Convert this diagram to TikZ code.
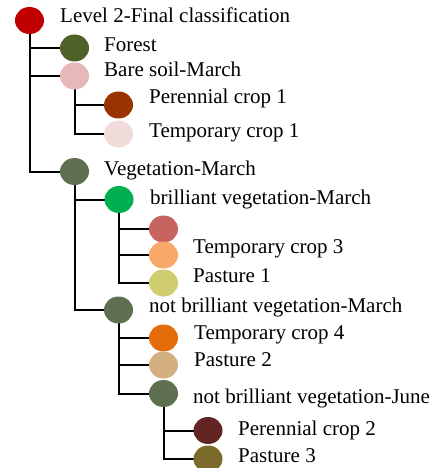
\documentclass[tikz,border=0pt]{standalone}
\usepackage{fontspec}
\setmainfont{Liberation Serif}
\usetikzlibrary{shapes.geometric,backgrounds}
\definecolor{cRoot}{HTML}{C00000}
\definecolor{cForest}{HTML}{4F6228}
\definecolor{cBare}{HTML}{E6B9B8}
\definecolor{cPerOne}{HTML}{993300}
\definecolor{cTmpOne}{HTML}{F2DCDB}
\definecolor{cVeg}{HTML}{5F7050}
\definecolor{cBril}{HTML}{00B050}
\definecolor{cRose}{HTML}{C86460}
\definecolor{cTmpThree}{HTML}{F8A868}
\definecolor{cPasOne}{HTML}{D0CC70}
\definecolor{cTmpFour}{HTML}{E46C0A}
\definecolor{cPasTwo}{HTML}{D4AF80}
\definecolor{cPerTwo}{HTML}{632523}
\definecolor{cPasThree}{HTML}{7A6B2A}
\tikzset{
  dot/.style={ellipse, minimum width=29pt, minimum height=27pt, inner sep=0pt, fill=#1},
  lbl/.style={anchor=base west, inner sep=0pt, font=\fontsize{21}{25}\selectfont},
  link/.style={draw=black, line width=2pt}
}
\begin{document}
\begin{tikzpicture}[x=1pt,y=-1pt]
\useasboundingbox (0,0) rectangle (435,468);
% circles
\node[dot=cRoot] (root) at (29.5,20.5) {};
\node[dot=cForest] (forest) at (74.5,48) {};
\node[dot=cBare] (bare) at (74.5,76) {};
\node[dot=cPerOne] (per1) at (118.5,105) {};
\node[dot=cTmpOne] (tmp1) at (118.5,134) {};
\node[dot=cVeg] (veg) at (74.5,171.5) {};
\node[dot=cBril] (bril) at (119,199.5) {};
\node[dot=cRose] (rose) at (163.5,229) {};
\node[dot=cTmpThree] (tmp3) at (163.5,255) {};
\node[dot=cPasOne] (pas1) at (163.5,283) {};
\node[dot=cVeg] (nbm) at (118.5,310) {};
\node[dot=cTmpFour] (tmp4) at (163.5,338) {};
\node[dot=cPasTwo] (pas2) at (163.5,365) {};
\node[dot=cVeg] (nbj) at (163.5,393.5) {};
\node[dot=cPerTwo] (per2) at (208,430.5) {};
\node[dot=cPasThree] (pas3) at (208,459) {};
% labels
\node[lbl] (troot) at (60,23) {Level 2-Final classification};
\node[lbl] (tforest) at (104,52) {Forest};
\node[lbl] (tbare) at (104,77) {Bare soil-March};
\node[lbl] (tper1) at (149,104) {Perennial crop 1};
\node[lbl] (ttmp1) at (149,137) {Temporary crop 1};
\node[lbl] (tveg) at (104,175) {Vegetation-March};
\node[lbl] (tbril) at (150,204) {brilliant vegetation-March};
\node[lbl] (ttmp3) at (193,253) {Temporary crop 3};
\node[lbl] (tpas1) at (193,282) {Pasture 1};
\node[lbl] (tnbm) at (149,312) {not brilliant vegetation-March};
\node[lbl] (ttmp4) at (194,339) {Temporary crop 4};
\node[lbl] (tpas2) at (194,366) {Pasture 2};
\node[lbl] (tnbj) at (193,403) {not brilliant vegetation-June};
\node[lbl] (tper2) at (238,435) {Perennial crop 2};
\node[lbl] (tpas3) at (238,462) {Pasture 3};
% connectors
\begin{pgfonlayer}{background}
\draw[link] (root.center) |- (forest.center);
\draw[link] (root.center) |- (bare.center);
\draw[link] (root.center) |- (veg.center);
\draw[link] (bare.center) |- (per1.center);
\draw[link] (bare.center) |- (tmp1.center);
\draw[link] (veg.center) |- (bril.center);
\draw[link] (veg.center) |- (nbm.center);
\draw[link] (bril.center) |- (rose.center);
\draw[link] (bril.center) |- (tmp3.center);
\draw[link] (bril.center) |- (pas1.center);
\draw[link] (nbm.center) |- (tmp4.center);
\draw[link] (nbm.center) |- (pas2.center);
\draw[link] (nbm.center) |- (nbj.center);
\draw[link] (nbj.center) |- (per2.center);
\draw[link] (nbj.center) |- (pas3.center);
\end{pgfonlayer}
\end{tikzpicture}
\end{document}
